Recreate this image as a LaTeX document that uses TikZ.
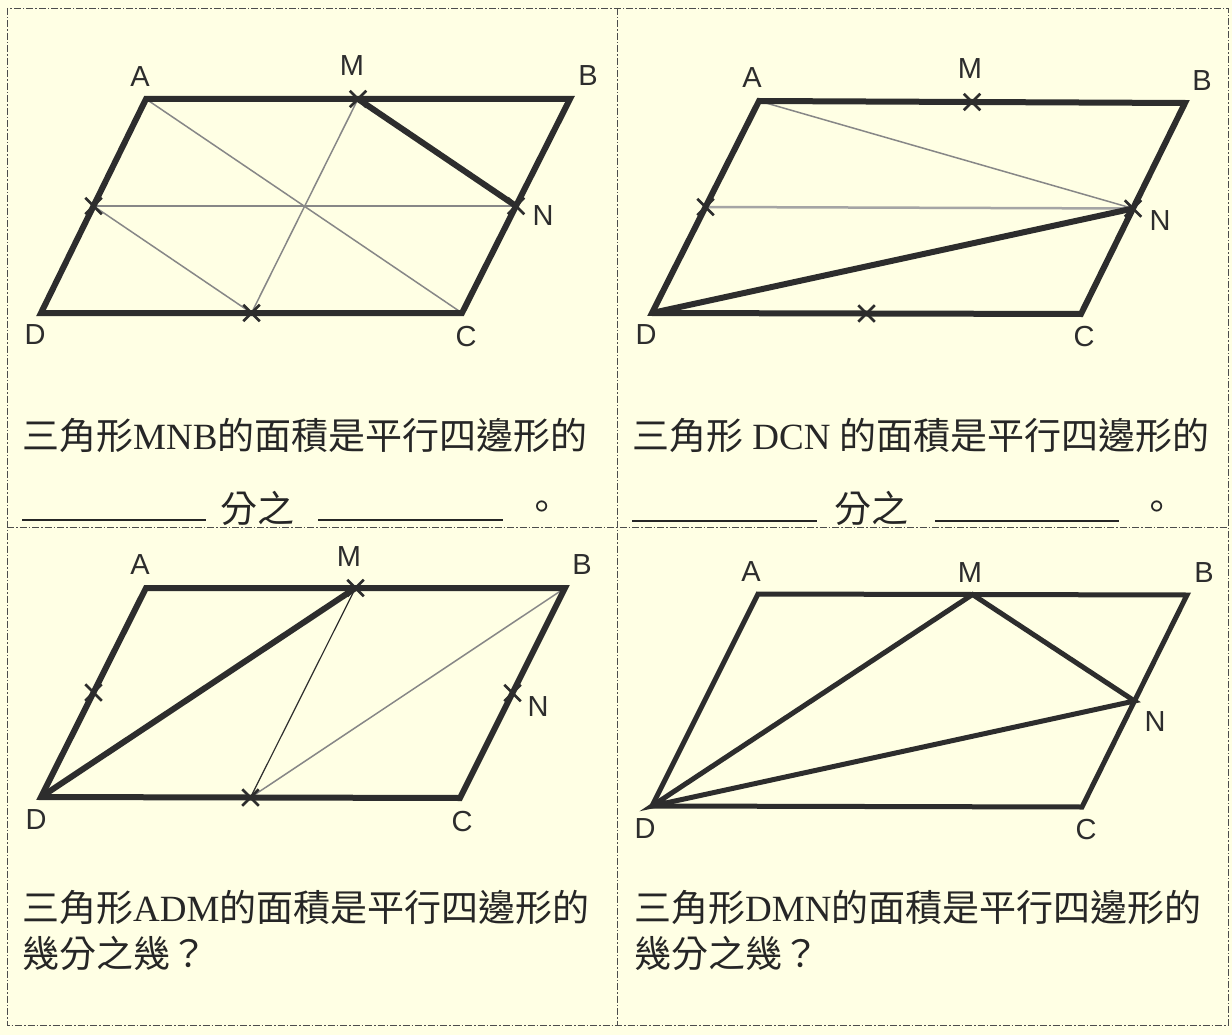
\documentclass[tikz,border=0pt]{standalone}
\usepackage{fontspec}
\setmainfont{Liberation Serif}
\newfontfamily\cjk{Noto Sans CJK TC}
\newfontfamily\lbl{Liberation Sans}
\usetikzlibrary{calc,shapes.misc}
\definecolor{paper}{RGB}{255,255,228}
\definecolor{ink}{RGB}{45,45,45}
\definecolor{pencil}{RGB}{135,135,135}
\newcommand{\zh}[1]{{\cjk #1}}

\begin{document}
\begin{tikzpicture}[x=1pt,y=-1pt,
   thickedge/.style={draw=ink,line width=6pt},
   helper/.style={draw=pencil,line width=1.5pt},
   xmark/.style={cross out,draw=ink,line width=2.5pt,minimum size=14pt,inner sep=0pt},
   vlabel/.style={font=\lbl\fontsize{29}{29}\selectfont,text=ink,inner sep=0pt},
   question/.style={font=\fontsize{37}{37}\selectfont,text=black!85,inner sep=0pt,anchor=base west},
   blankline/.style={draw=black!85,line width=1.5pt},
   cutline/.style={draw=black!70,line width=0.9pt,dash pattern=on 7pt off 2pt on 1.5pt off 2pt}]
   \fill[paper] (0,0) rectangle (1232,1035);
   % cutting lines
   \draw[cutline] (7,8) rectangle (1228,1025);
   \draw[cutline] (617,8) -- (617,1025);
   \draw[cutline] (7,527) -- (1228,527);

   % top left
   \coordinate (A1) at (146,99);
   \coordinate (B1) at (570,99);
   \coordinate (C1) at (462,313);
   \coordinate (D1) at (41,313);
   \coordinate (M1) at ($(A1)!0.5!(B1)$);
   \coordinate (N1) at ($(B1)!0.5!(C1)$);
   \coordinate (P1) at ($(A1)!0.5!(D1)$);
   \coordinate (Q1) at ($(D1)!0.5!(C1)$);
   \draw[helper] (A1) -- (C1);
   \draw[helper] (M1) -- (Q1);
   \draw[helper] (P1) -- (N1);
   \draw[helper] (P1) -- (Q1);
   \draw[thickedge] (A1) -- (B1) -- (C1) -- (D1) -- cycle;
   \draw[thickedge] (M1) -- (N1);
   \node (xM1) [xmark] at (M1) {};
   \node (xN1) [xmark] at (N1) {};
   \node (xP1) [xmark] at (P1) {};
   \node (xQ1) [xmark] at (Q1) {};
   \node (lA1) [vlabel] at (140,77)  {A};
   \node (lM1) [vlabel] at (352,66)  {M};
   \node (lB1) [vlabel] at (588,76)  {B};
   \node (lN1) [vlabel] at (543,216) {N};
   \node (lD1) [vlabel] at (35,335)  {D};
   \node (lC1) [vlabel] at (466,337) {C};
   \node (q1) [question] at (22,449) {\zh{三角形}MNB\zh{的面積是平行四邊形的}};
   \draw[blankline] (22,520) -- (206,520);
   \node (f1) [question,anchor=base] at (257,522) {\zh{分之}};
   \draw[blankline] (318,520) -- (503,520);
   \node (e1) [question,anchor=base] at (542,520) {\zh{。}};

   % top right
   \coordinate (A2) at (759,101);
   \coordinate (B2) at (1185,103);
   \coordinate (C2) at (1081,314);
   \coordinate (D2) at (652,313);
   \coordinate (M2) at ($(A2)!0.5!(B2)$);
   \coordinate (N2) at ($(B2)!0.5!(C2)$);
   \coordinate (P2) at ($(A2)!0.5!(D2)$);
   \coordinate (Q2) at ($(D2)!0.5!(C2)$);
   \draw[helper] (A2) -- (N2);
   \draw[helper,line width=2.5pt,draw=pencil!75] (P2) -- (N2);
   \draw[thickedge] (A2) -- (B2) -- (C2) -- (D2) -- cycle;
   \draw[thickedge] (D2) -- (N2);
   \node (xM2) [xmark] at (M2) {};
   \node (xN2) [xmark] at (N2) {};
   \node (xP2) [xmark] at (P2) {};
   \node (xQ2) [xmark] at (Q2) {};
   \node (lA2) [vlabel] at (752,78)  {A};
   \node (lM2) [vlabel] at (970,69)  {M};
   \node (lB2) [vlabel] at (1202,81) {B};
   \node (lN2) [vlabel] at (1160,221) {N};
   \node (lD2) [vlabel] at (646,335) {D};
   \node (lC2) [vlabel] at (1084,337) {C};
   \node (q2) [question] at (632,449) {\zh{三角形} DCN \zh{的面積是平行四邊形的}};
   \draw[blankline] (632,521) -- (817,521);
   \node (f2) [question,anchor=base] at (871,522) {\zh{分之}};
   \draw[blankline] (935,521) -- (1119,521);
   \node (e2) [question,anchor=base] at (1157,520) {\zh{。}};

   % bottom left
   \coordinate (A3) at (146,588);
   \coordinate (B3) at (565,588);
   \coordinate (C3) at (460,798);
   \coordinate (D3) at (41,797);
   \coordinate (M3) at ($(A3)!0.5!(B3)$);
   \coordinate (N3) at ($(B3)!0.5!(C3)$);
   \coordinate (P3) at ($(A3)!0.5!(D3)$);
   \coordinate (Q3) at ($(D3)!0.5!(C3)$);
   \draw[helper,draw=ink,line width=1.2pt] (M3) -- (Q3);
   \draw[helper] (Q3) -- (B3);
   \draw[thickedge] (A3) -- (B3) -- (C3) -- (D3) -- cycle;
   \draw[thickedge] (D3) -- (M3);
   \node (xM3) [xmark] at (M3) {};
   \node (xN3) [xmark] at (N3) {};
   \node (xP3) [xmark] at (P3) {};
   \node (xQ3) [xmark] at (Q3) {};
   \node (lA3) [vlabel] at (140,565) {A};
   \node (lM3) [vlabel] at (349,557) {M};
   \node (lB3) [vlabel] at (582,565) {B};
   \node (lN3) [vlabel] at (538,707) {N};
   \node (lD3) [vlabel] at (36,820)  {D};
   \node (lC3) [vlabel] at (462,822) {C};
   \node (q3) [question] at (22,921) {\zh{三角形}ADM\zh{的面積是平行四邊形的}};
   \node (r3) [question] at (22,967) {\zh{幾分之幾？}};

   % bottom right
   \coordinate (A4) at (758,594);
   \coordinate (B4) at (1187,595);
   \coordinate (C4) at (1082,807);
   \coordinate (D4) at (652,806);
   \coordinate (M4) at ($(A4)!0.5!(B4)$);
   \coordinate (N4) at ($(B4)!0.5!(C4)$);
   \draw[thickedge,line width=5pt] (A4) -- (B4) -- (C4) -- (D4) -- cycle;
   \draw[thickedge,line width=5pt] (D4) -- (M4) -- (N4) -- cycle;
   \node (lA4) [vlabel] at (751,572)  {A};
   \node (lM4) [vlabel] at (970,573)  {M};
   \node (lB4) [vlabel] at (1204,573) {B};
   \node (lN4) [vlabel] at (1155,722) {N};
   \node (lD4) [vlabel] at (645,829)  {D};
   \node (lC4) [vlabel] at (1086,830) {C};
   \node (q4) [question] at (634,921) {\zh{三角形}DMN\zh{的面積是平行四邊形的}};
   \node (r4) [question] at (634,967) {\zh{幾分之幾？}};
  \end{tikzpicture}
\end{document}
